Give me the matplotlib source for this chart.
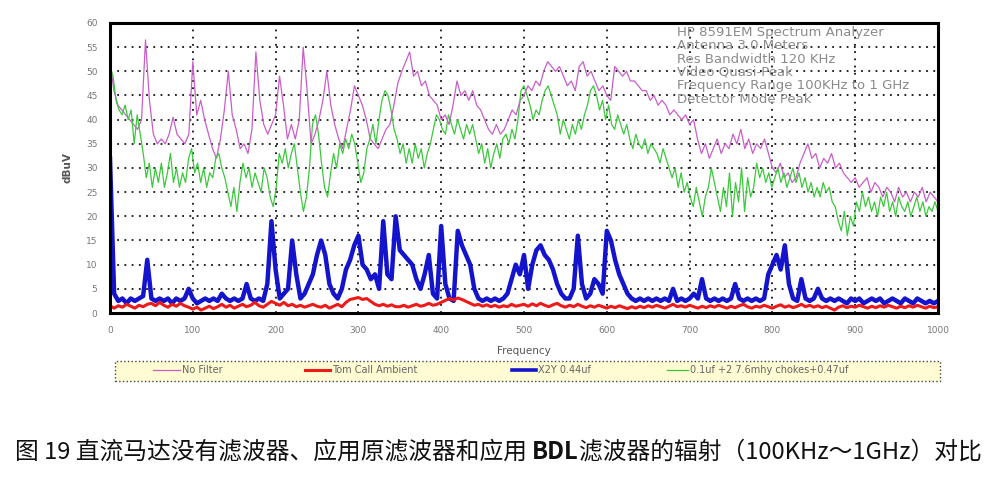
import matplotlib
matplotlib.use("Agg")
import matplotlib.pyplot as plt
from matplotlib.lines import Line2D
from matplotlib.patches import Rectangle
import numpy as np

plt.rcParams['font.family'] = ['DejaVu Sans']

# dBuV readings (0 - 1000 MHz sweep)
no_filter = [52, 46, 43, 42, 41, 40, 39, 38, 40, 56.5, 44, 37, 35, 36, 35, 37, 40.5, 37, 36, 35,
             37, 52, 41, 44, 40, 37, 34, 32, 36, 42, 50, 41, 38, 34, 35, 33, 38, 54, 44, 39,
             37, 39, 41, 49, 43, 36, 39, 36, 40, 55, 46, 35, 37, 40, 44, 50, 43, 39, 36, 34,
             38, 42, 47, 45, 43, 40, 36, 35, 34, 36, 38, 39, 43, 47.5, 50, 52, 54, 49, 50, 47,
             48, 45, 44, 43, 40, 41, 39, 43, 48, 45, 46, 44, 46, 43, 42, 40, 38, 37, 39, 37,
             38, 40, 42, 41, 44, 45, 47, 46, 48, 47, 50, 52, 51, 50, 51, 49, 47, 48, 46, 51,
             52, 49, 50, 48, 46, 47, 45, 44, 51, 50, 49, 50, 48, 48, 47, 46, 46, 44, 45, 43,
             44, 43, 41, 42, 41, 40, 41, 39, 40, 36, 33, 35, 32, 34, 36, 33, 35, 34, 37, 35,
             38, 34, 36, 33, 35, 34, 36, 33, 30, 29, 31, 28, 29, 27, 28, 31, 33, 35, 32, 33,
             30, 32, 31, 33, 30, 31, 29, 28, 27, 28, 26, 27, 28, 25, 27, 26, 24, 26, 25, 23,
             26, 24, 25, 23, 25, 24, 26, 23, 25, 24, 23]

chokes = [51, 49, 44, 42, 41, 43, 40, 42, 35, 41, 37, 33, 28, 31, 26, 30, 27, 31, 26, 29,
          33, 27, 30, 26, 29, 27, 32, 34, 29, 31, 27, 30, 26, 29, 28, 32, 33, 30, 28, 25,
          22, 26, 21, 27, 31, 28, 30, 26, 29, 27, 25, 30, 28, 24, 22, 26, 33, 31, 34, 30,
          33, 35, 30, 25, 21, 24, 30, 39, 41, 37, 31, 26, 24, 29, 33, 30, 35, 33, 36, 34,
          37, 35, 31, 27, 29, 34, 36, 39, 35, 40, 44, 46, 45, 42, 38, 36, 33, 35, 31, 34,
          31, 35, 32, 34, 30, 33, 35, 38, 41, 40, 38, 37, 41, 39, 37, 40, 38, 36, 39, 37,
          39, 36, 33, 35, 31, 34, 30, 33, 35, 32, 36, 37, 35, 38, 36, 40, 46, 47, 45, 43,
          40, 42, 41, 44, 46, 47, 45, 43, 41, 37, 40, 38, 36, 39, 37, 40, 38, 41, 43, 46,
          47, 45, 42, 44, 40, 43, 39, 38, 41, 39, 37, 39, 36, 34, 37, 35, 34, 36, 33, 35,
          34, 33, 31, 34, 32, 30, 28, 30, 26, 29, 25, 27, 24, 22, 26, 23, 20, 24, 26, 30,
          27, 24, 21, 26, 22, 29, 20, 27, 23, 30, 21, 28, 24, 26, 31, 28, 30, 27, 29, 26,
          28, 30, 27, 29, 26, 28, 30, 27, 29, 26, 28, 25, 27, 24, 26, 24, 27, 25, 26, 23,
          22, 19, 17, 21, 16, 20, 18, 23, 21, 25, 22, 24, 21, 23, 20, 24, 22, 25, 21, 23,
          20, 24, 22, 21, 23, 20, 22, 24, 21, 23, 20, 22, 21, 23, 21]

x2y = [32, 4, 2.5, 3, 2, 3, 2.5, 3, 3.5, 11, 3, 2.5, 3, 2.5, 3, 2, 3, 2.5, 3, 5,
       3, 2, 2.5, 3, 2.5, 3, 2.5, 4, 3, 2.5, 3, 2.5, 3, 6, 3, 2.5, 3, 2.5, 6, 19,
       9, 3, 4, 5, 15, 8, 3, 4, 6, 8, 12, 15, 12, 6, 4, 3, 5, 9, 11, 14,
       16, 10, 9, 7, 8, 5, 19, 8, 7, 20, 13, 12, 11, 10, 7, 5, 8, 12, 4, 3,
       18, 6, 3, 2.5, 17, 14, 12, 10, 5, 3, 2.5, 3, 2.5, 3, 2.5, 3, 4, 7, 10, 8,
       12, 5, 10, 13, 14, 12, 11, 9, 6, 4, 3, 3, 5, 16, 6, 3, 4, 7, 6, 4,
       17, 15, 11, 8, 6, 4, 3, 2.5, 3, 2.5, 3, 2.5, 3, 2.5, 3, 2.5, 5, 2.5, 3, 2.5,
       3, 4, 3, 7, 3, 2.5, 3, 2.5, 3, 2.5, 3, 6, 3, 2.5, 3, 2.5, 3, 2.5, 3, 8,
       10, 12, 9, 14, 6, 3, 2.5, 7, 3, 2.5, 3, 5, 3, 2.5, 3, 2.5, 3, 2.5, 2, 3,
       2.5, 3, 2, 2.5, 3, 2.5, 3, 2, 2.5, 3, 2.5, 2, 3, 2.5, 2, 3, 2.5, 2, 2.5, 2,
       2.5]

ambient = [1.5, 1.0, 1.5, 1.2, 1.8, 1.4, 1.0, 1.6, 1.3, 1.8,
           2.0, 1.5, 2.2, 1.6, 1.2, 1.8, 1.4, 2.0, 1.5, 1.2,
           0.8, 1.2, 0.6, 1.0, 1.4, 0.9, 1.3, 1.8, 1.2, 1.6,
           1.0, 1.4, 1.8, 1.3, 1.6, 2.2, 1.5, 1.2, 1.8, 2.4,
           2.0, 1.6, 2.2, 1.5, 1.8, 1.3, 1.6, 1.2, 1.5, 1.8,
           1.4, 1.2, 1.6, 1.0, 1.4, 1.8, 1.3, 2.2, 2.8, 3.0,
           3.2, 2.8, 3.0, 2.4, 1.8, 1.5, 1.8, 1.4, 1.7, 1.3,
           1.3, 1.6, 1.2, 1.5, 1.8, 1.4, 1.6, 2.0, 1.6, 1.8,
           2.2, 2.6, 3.0, 2.7, 3.1, 2.8, 2.4, 2.0, 1.6, 1.8,
           1.4, 1.7, 1.3, 1.6, 1.2, 1.5, 1.3, 1.8, 1.4, 1.6,
           1.8, 1.4, 1.9, 1.5, 2.0, 1.6, 1.3, 1.7, 2.0, 1.5,
           1.2, 1.6, 1.3, 1.8, 1.4, 1.1, 1.5, 1.2, 1.6, 1.3,
           1.0, 1.4, 1.1, 1.5, 1.2, 0.9, 1.3, 1.0, 1.4, 1.1,
           1.5, 1.2, 1.6, 1.3, 1.0, 1.4, 1.8, 1.3, 1.5, 1.2,
           1.6, 1.3, 1.0, 1.4, 1.1, 1.5, 1.2, 1.6, 1.3, 1.0,
           1.4, 1.1, 1.5, 1.8, 1.3, 1.0, 1.4, 1.2, 1.6, 1.3,
           1.0, 1.4, 1.7, 1.2, 1.5, 1.1, 1.4, 1.8, 1.3, 1.6,
           1.2, 1.5, 1.1, 1.4, 1.0, 0.6, 1.2, 1.5, 1.1, 1.4,
           1.2, 1.6, 1.3, 1.0, 1.4, 1.1, 1.5, 1.2, 1.6, 1.3,
           1.0, 1.4, 1.1, 1.5, 1.2, 1.6, 1.3, 1.0, 1.4, 1.1,
           1.3]

# sweep points are evenly spaced over the span
f_pink = np.linspace(0, 1000, len(no_filter))
f_green = np.linspace(0, 1000, len(chokes))
f_blue = np.linspace(0, 1000, len(x2y))
f_red = np.linspace(0, 1000, len(ambient))

x_ticks = np.arange(0, 1001, 100)
y_ticks = np.arange(0, 61, 5)

series_names = ["No Filter", "Tom Call Ambient", "X2Y 0.44uf", "0.1uf +2 7.6mhy chokes+0.47uf"]
series_colors = ['#c95ec9', '#ee1a1a', '#1414cc', '#3cc83c']

info_lines = ["HP 8591EM Spectrum Analyzer",
              "Antenna 3.0 Meters",
              "Res Bandwidth 120 KHz",
              "Video Quasi-Peak",
              "Frequency Range 100KHz to 1 GHz",
              "Detector Mode Peak"]

caption_a = "图 19 直流马达没有滤波器、应用原滤波器和应用 "
caption_b = "BDL"
caption_c = "滤波器的辐射（100KHz～1GHz）对比"

fig = plt.figure(figsize=(10, 4.84), dpi=100)
ax = fig.add_axes([0.110, 0.3533, 0.828, 0.5992])

ax.plot(f_pink, no_filter, color=series_colors[0], lw=0.9)
ax.plot(f_green, chokes, color=series_colors[3], lw=0.9)
ax.plot(f_blue, x2y, color=series_colors[2], lw=3.2)
ax.plot(f_red, ambient, color=series_colors[1], lw=2.2)

ax.set_xlim(0, 1000)
ax.set_ylim(0, 60)
ax.set_xticks(x_ticks)
ax.set_yticks(y_ticks)
ax.set_axisbelow(True)
ax.grid(True, color='#111111', ls=(0, (1, 3)), lw=1.3)
for s in ax.spines.values():
    s.set_linewidth(2.2)
    s.set_color('black')
ax.tick_params(labelsize=6.5, labelcolor='#777777', length=0, pad=9)
ax.set_xlabel("Frequency", fontsize=7.5, color='#555555', labelpad=8)
ax.set_ylabel("dBuV", fontsize=7.5, color='#555555', labelpad=10, fontweight='bold')

for k, line in enumerate(info_lines):
    ax.text(0.685, 0.99 - k * 0.046, line, transform=ax.transAxes,
            fontsize=9.5, color='#8a8a8a', va='top', ha='left')

# legend strip under the axes
fig.patches.append(Rectangle((0.115, 1 - 381 / 484), 0.825, 20 / 484, transform=fig.transFigure,
                             facecolor='#fffbd2', edgecolor='#444444', ls=':', lw=1.0))
ly = 1 - 370 / 484
hx = [0.153, 0.305, 0.512, 0.667]
hw = [0.027, 0.025, 0.024, 0.021]
lws = [0.9, 2.2, 2.6, 0.9]
for k in range(4):
    fig.lines.append(Line2D([hx[k], hx[k] + hw[k]], [ly, ly], transform=fig.transFigure,
                            color=series_colors[k], lw=lws[k]))
    fig.text(hx[k] + hw[k] + 0.002, ly, series_names[k], fontsize=7, color='#666666',
             va='center', ha='left')

# caption, BDL in bold, sized to span the width
cjk = ['Noto Sans CJK SC', 'DejaVu Sans']
cy = 1 - 452 / 484
fs = 15.0
renderer = fig.canvas.get_renderer()
for it in range(2):
    if it:
        for t in parts:
            t.remove()
    x0 = 15
    parts = []
    for txt, wt in [(caption_a, 'normal'), (caption_b, 'bold'), (caption_c, 'normal')]:
        t = fig.text(x0 / 1000, cy, txt, fontsize=fs, family=cjk, fontweight=wt,
                     va='center', ha='left', color='#111111')
        bb = t.get_window_extent(renderer)
        x0 = bb.x1
        parts.append(t)
    fs = fs * 970 / (x0 - 15)

fig.savefig("out.png", dpi=100)
